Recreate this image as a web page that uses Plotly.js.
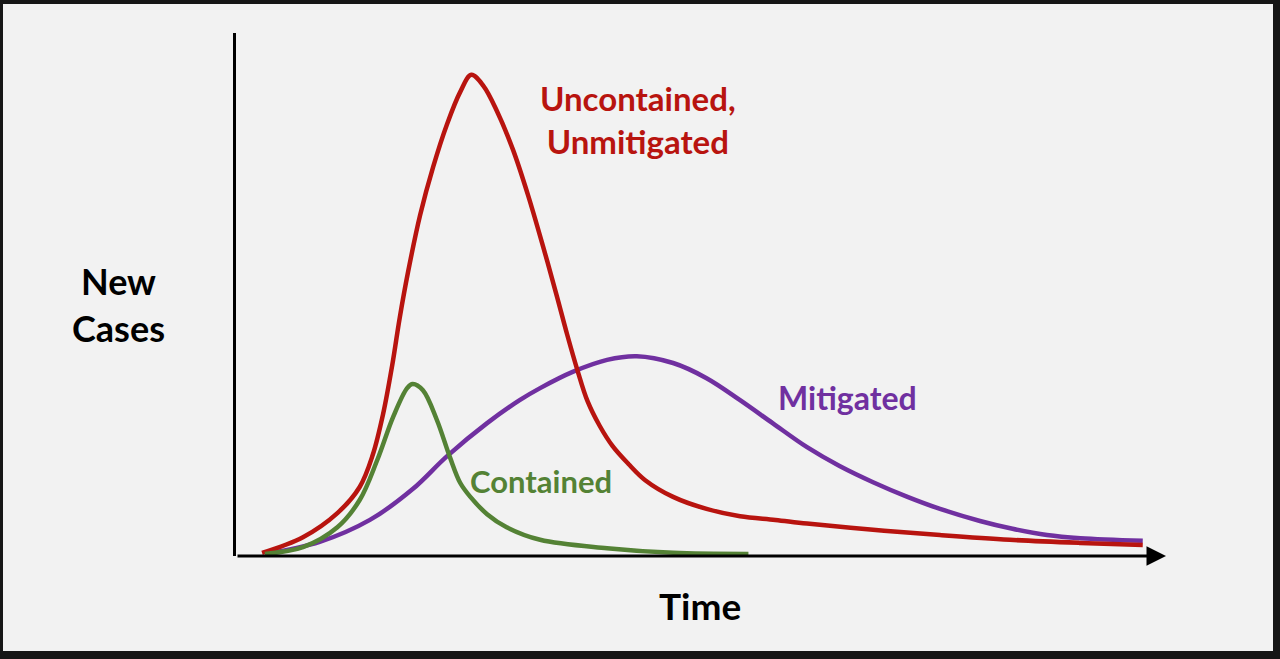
<!DOCTYPE html>
<html>
<head>
<meta charset="utf-8">
<script src="https://cdn.plot.ly/plotly-3.0.1.min.js"></script>
<style>
  html, body { margin: 0; padding: 0; background: #161616; width: 1280px; height: 659px; overflow: hidden; }
  #chart { position: absolute; left: 3px; top: 4px; width: 1270px; height: 647px; }
</style>
</head>
<body>
<div id="chart"></div>
<script>
// Time (0-100 arbitrary units) and New Cases (0-100 arbitrary units)
const uncontainedTime  = [2.8, 7.2, 10.9, 13.3, 14.7, 15.8, 16.8, 17.6, 18.5, 19.8, 21.2, 22.7, 24.1, 25.3, 26.6, 28.1, 29.8, 31.4, 33.0, 34.5, 35.6, 36.7, 37.8, 39.1, 40.5, 42.2, 44.0, 47.0, 50.6, 54.2, 58.0, 61.4, 68.5, 75.7, 83.2, 90.8, 97.5];
const uncontainedCases = [0.6, 3.6, 8.2, 13.2, 19.3, 27.0, 36.5, 45.5, 54.3, 65.2, 74.4, 82.6, 88.7, 92.0, 89.9, 84.9, 77.6, 69.0, 59.3, 49.7, 42.4, 35.6, 29.6, 24.9, 21.0, 17.6, 14.5, 11.3, 9.0, 7.6, 6.9, 6.2, 5.0, 4.0, 3.1, 2.5, 2.1];

const mitigatedTime  = [3.3, 9.0, 14.4, 19.0, 22.7, 27.0, 30.5, 32.7, 36.2, 39.9, 43.1, 47.0, 50.6, 54.2, 57.7, 61.4, 64.9, 68.5, 72.2, 75.7, 80.0, 83.5, 87.2, 90.8, 97.5];
const mitigatedCases = [0.4, 2.7, 6.9, 12.8, 19.1, 25.4, 29.8, 32.1, 35.2, 37.5, 38.2, 36.9, 34.0, 29.8, 25.4, 20.8, 17.2, 14.1, 11.3, 9.0, 6.7, 5.2, 4.0, 3.4, 2.9];

const containedTime  = [3.1, 7.2, 10.9, 13.3, 15.2, 16.9, 18.4, 19.0, 20.1, 21.6, 23.0, 24.1, 25.2, 27.0, 29.1, 32.7, 39.9, 47.0, 55.1];
const containedCases = [0.4, 1.7, 5.5, 10.7, 18.4, 26.6, 32.1, 32.9, 31.7, 26.0, 18.9, 14.0, 11.3, 8.0, 5.5, 3.1, 1.5, 0.6, 0.4];

const seriesNames = ["Uncontained,<br>Unmitigated", "Mitigated", "Contained"];
const axisLabels = { x: "Time", y: "New<br>Cases" };

const RED = "#B8140F", PURPLE = "#7030A0", GREEN = "#548235";
const FONT = "Lato, 'Open Sans', sans-serif";

const lineStyle = (c) => ({ color: c, width: 4.5, shape: "spline", smoothing: 1 });
const traces = [
  { x: mitigatedTime, y: mitigatedCases, mode: "lines", line: lineStyle(PURPLE), hoverinfo: "skip" },
  { x: uncontainedTime, y: uncontainedCases, mode: "lines", line: lineStyle(RED), hoverinfo: "skip" },
  { x: containedTime, y: containedCases, mode: "lines", line: lineStyle(GREEN), hoverinfo: "skip" }
];

function label(text, x, y, color, size) {
  return { text: "<b>" + text + "</b>", x: x, y: y, xref: "paper", yref: "paper", showarrow: false,
           xanchor: "center", yanchor: "middle", align: "center",
           font: { family: FONT, size: size, color: color } };
}

const layout = {
  width: 1270, height: 647,
  margin: { l: 233, r: 107, t: 29, b: 95, pad: 0 },
  paper_bgcolor: "#f2f2f2",
  plot_bgcolor: "rgba(0,0,0,0)",
  showlegend: false,
  xaxis: { range: [0, 100], showgrid: false, zeroline: false, showline: false, showticklabels: false, ticks: "", fixedrange: true },
  yaxis: { range: [0, 100], showgrid: false, zeroline: false, showline: true, linecolor: "#000", linewidth: 3, showticklabels: false, ticks: "", fixedrange: true },
  annotations: [
    { x: 100, y: 0, ax: 0, ay: 0, xref: "x", yref: "y", axref: "x", ayref: "y", text: "", showarrow: true,
      arrowhead: 2, arrowsize: 1.3, arrowwidth: 3, arrowcolor: "#000" },
    label(seriesNames[0], 0.432, 0.834, RED, 33),
    label(seriesNames[1], 0.657, 0.304, PURPLE, 32),
    label(seriesNames[2], 0.328, 0.143, GREEN, 31),
    label(axisLabels.y, -0.126, 0.48, "#000", 36),
    label(axisLabels.x, 0.499, -0.0956, "#000", 37)
  ]
};

Plotly.newPlot("chart", traces, layout, { staticPlot: true, displayModeBar: false });
</script>
</body>
</html>
